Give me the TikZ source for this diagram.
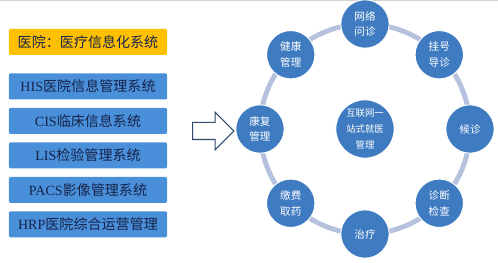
\documentclass[tikz,border=0pt]{standalone}
\usepackage{fontspec}
\setmainfont{Liberation Serif}
\newfontfamily\cjk{Noto Sans CJK SC}
\usetikzlibrary{shapes.arrows, positioning, calc}

\definecolor{hisyellow}{HTML}{FFC000}
\definecolor{hisblue}{HTML}{4A8FDA}
\definecolor{hubblue}{HTML}{3E7BC1}
\definecolor{ringgray}{HTML}{B5C2DE}
\definecolor{navytext}{HTML}{16244A}
\definecolor{arrowline}{HTML}{2E4A6B}

\begin{document}
\begin{tikzpicture}[
    x=0.03cm, y=-0.03cm,
    node distance=0.24cm,
    sysbox/.style={rectangle, fill=hisblue, text=navytext, minimum width=4.74cm, minimum height=0.78cm, inner sep=0pt, rounded corners=1pt, font=\fontsize{12}{14}\selectfont},
    sat/.style={circle, fill=hubblue, draw=white, line width=0.8pt, text=white, minimum size=1.45cm, inner sep=0pt, align=center, font=\cjk\fontsize{9}{13.5}\selectfont},
    ring/.style={draw=ringgray, line width=4.2pt}
]
\useasboundingbox (0,0) rectangle (498,263);
\draw [gray!35, line width=0.8pt] (0,0.5) -- (498,0.5);

% left column: systems
\node [sysbox, fill=hisyellow] (title) at (88,42) {\cjk 医院：医疗信息化系统};
\node [sysbox, below=0.54cm of title] (his) {HIS{\cjk 医院信息管理系统}};
\node [sysbox, below=of his] (cis) {CIS{\cjk 临床信息系统}};
\node [sysbox, below=of cis] (lis) {LIS{\cjk 检验管理系统}};
\node [sysbox, below=of lis] (pacs) {PACS{\cjk 影像管理系统}};
\node [sysbox, below=of pacs] (hrp) {HRP{\cjk 医院综合运营管理}};

% hollow arrow
\node [single arrow, draw=arrowline, fill=white, line width=0.9pt, minimum height=1.24cm, inner xsep=0pt, inner ysep=0.24cm, single arrow head extend=0.31cm] (arrow) at (209,131) {};

% ring of services
\coordinate (ringc) at (365,129);
\draw [ring] (ringc) circle [radius=3.15cm];
\node [sat, minimum size=1.75cm, font=\cjk\fontsize{8}{14}\selectfont] (hub) at (ringc) {互联网一\\站式就医\\管理};
\foreach \ang/\name/\txt in {90/wangluo/网络\\问诊, 45/guahao/挂号\\导诊, 0/houzhen/候诊, -45/zhenduan/诊断\\检查, -90/zhiliao/治疗, -135/jiaofei/缴费\\取药, 180/kangfu/康复\\管理, 135/jiankang/健康\\管理}
    \node [sat] (\name) at ($(ringc)+(\ang:3.15cm)$) {\txt};

\end{tikzpicture}
\end{document}
